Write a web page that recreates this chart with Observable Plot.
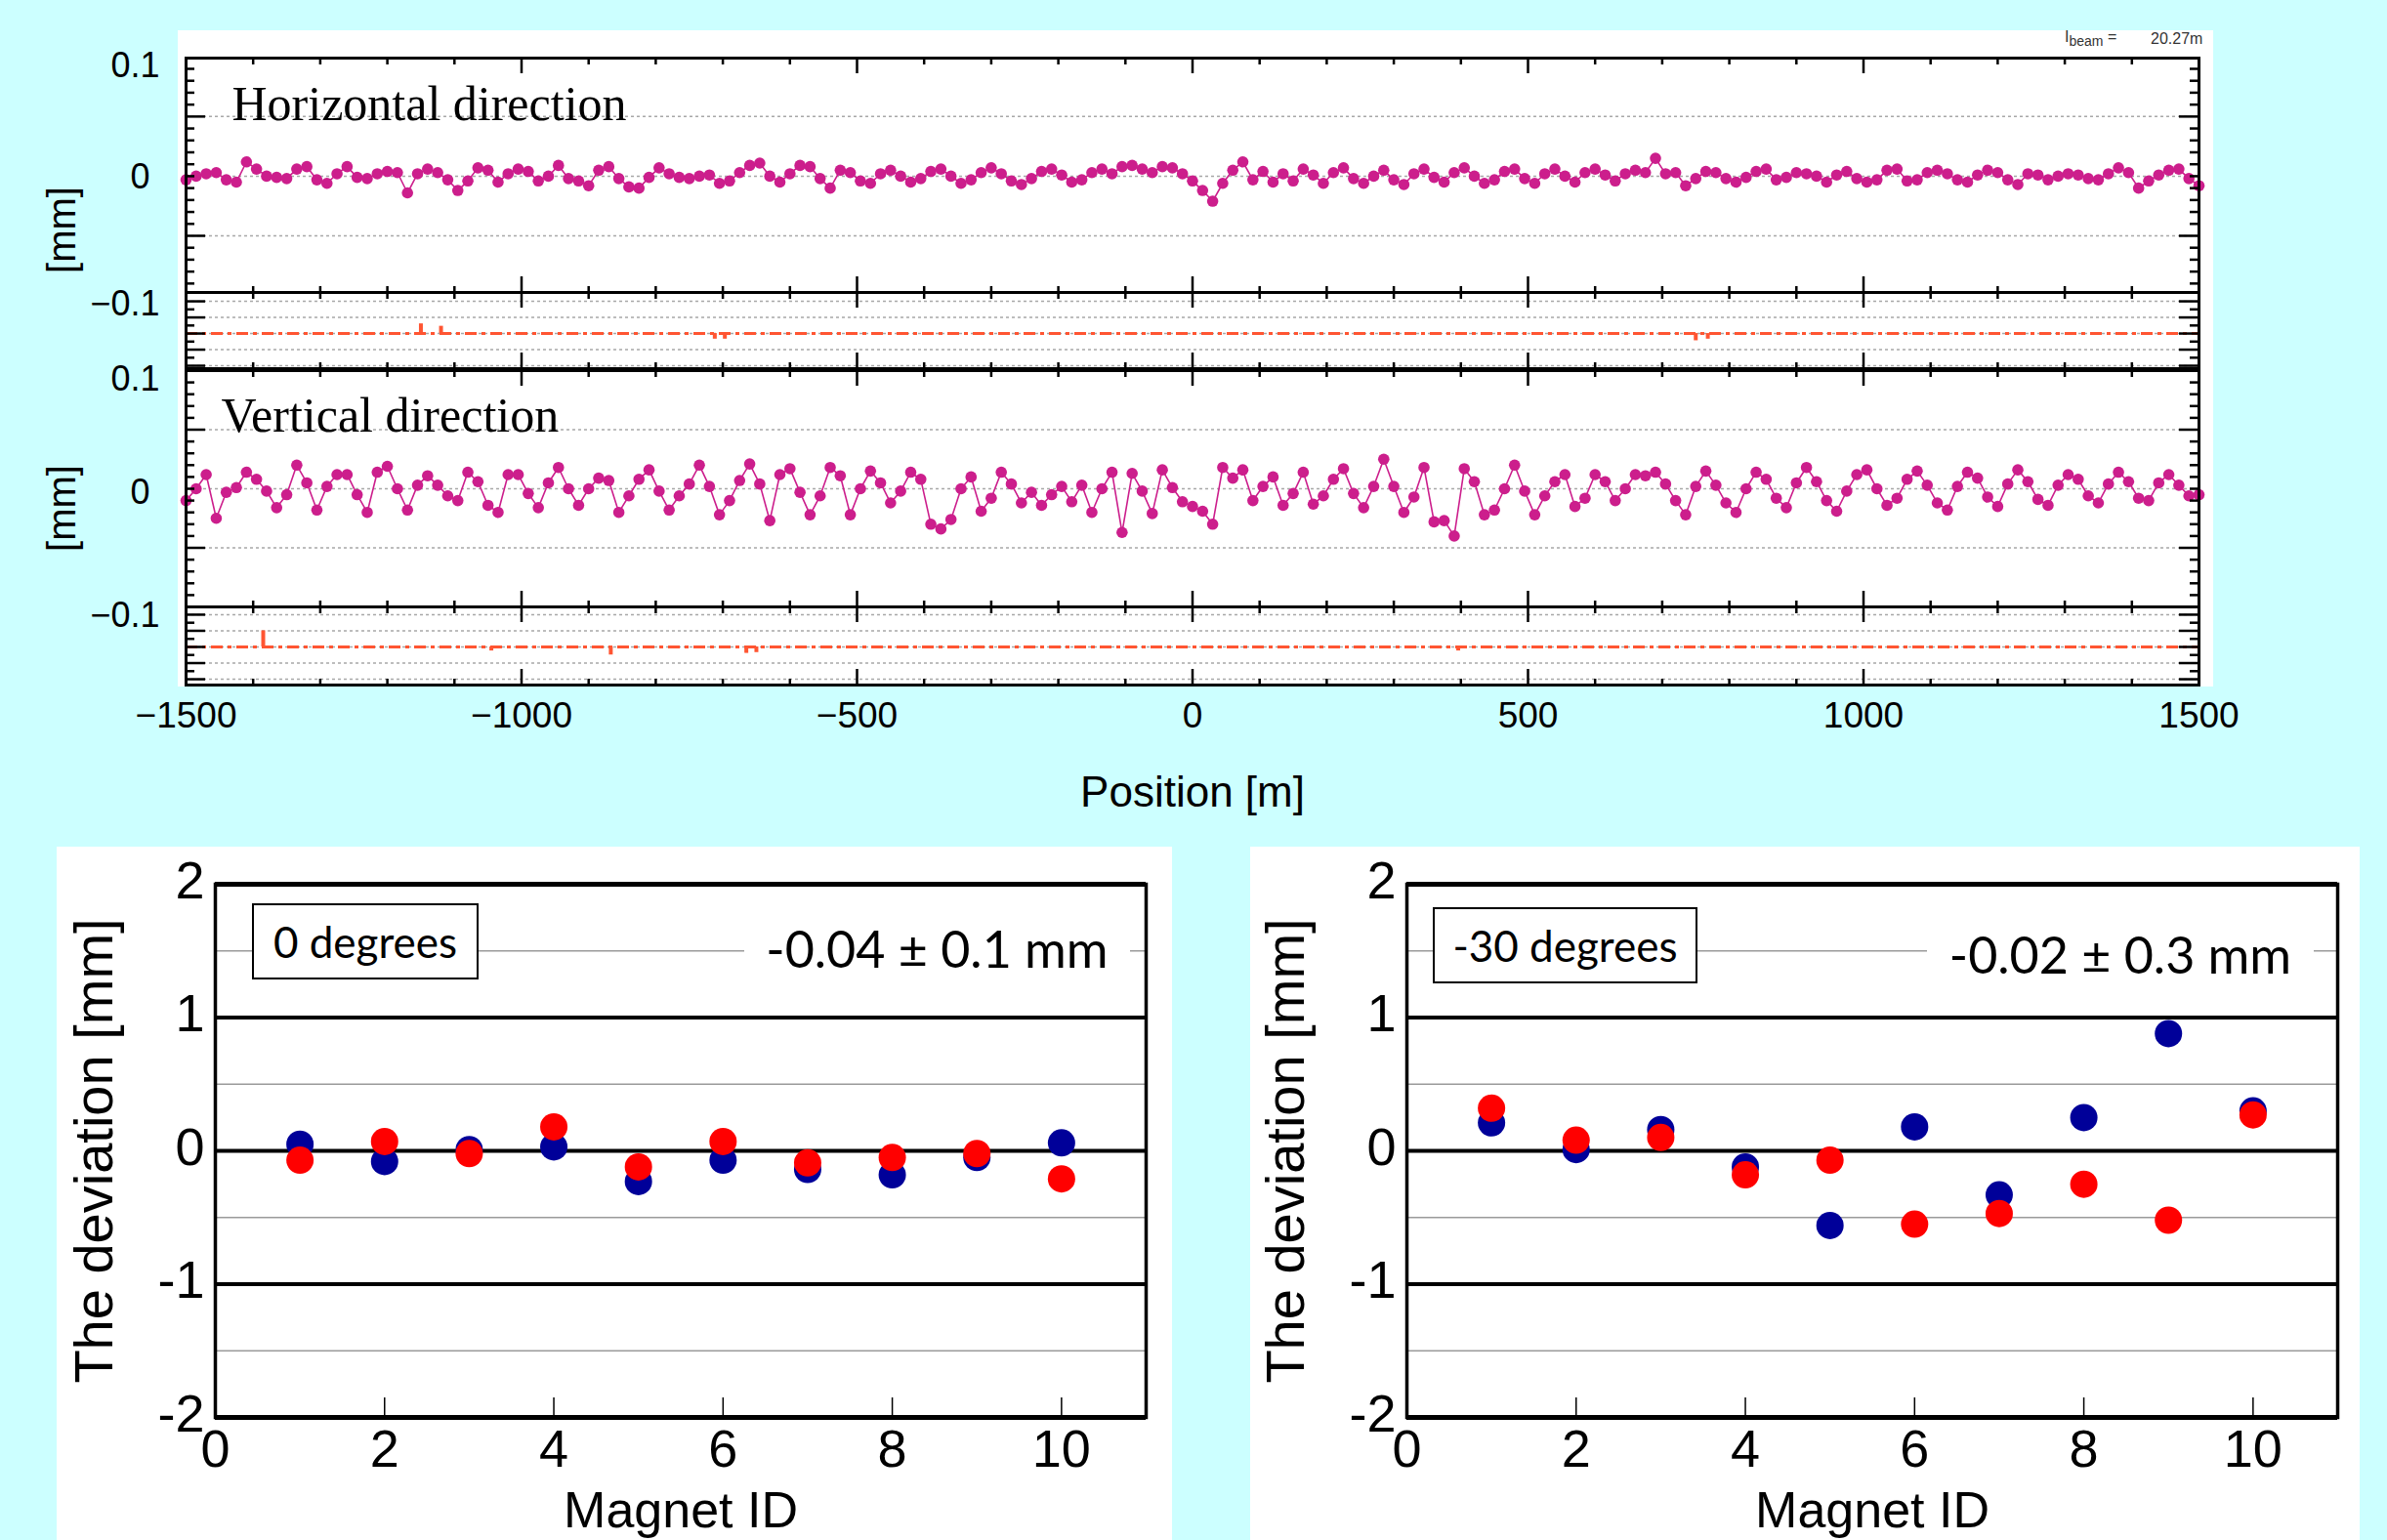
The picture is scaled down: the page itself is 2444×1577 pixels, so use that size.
<!DOCTYPE html>
<html><head><meta charset="utf-8">
<script src="https://cdn.jsdelivr.net/npm/d3@7"></script>
<script src="https://cdn.jsdelivr.net/npm/@observablehq/plot@0.6"></script>
<style>
html,body{margin:0;padding:0;background:#ccffff;overflow:hidden;}
#page{position:relative;width:2444px;height:1577px;background:#ccffff;overflow:hidden;font-family:"Liberation Sans",Arial,sans-serif;}
.layer{position:absolute;left:0;top:0;width:2444px;height:1577px;}
.bg{position:absolute;background:#fff;}
.box{position:absolute;background:#fff;border:2px solid #000;box-sizing:border-box;font-family:Lato,sans-serif;font-size:44px;display:flex;align-items:center;justify-content:center;color:#000;white-space:nowrap;}
.stat{position:absolute;background:#fff;font-family:Lato,sans-serif;font-size:52px;display:flex;align-items:center;justify-content:center;color:#000;white-space:nowrap;}
</style></head><body><div id="page"></div>
<script>
// ---------- data ----------
const positionStart = -1500, positionStep = 15; // survey sampling along the ring (m)
// horizontal deviation (µm), one row per 300 m
const horizontalUm = [
  -3, 0, 2, 3, -3, -5, 12, 6, 0, -1, -2, 6, 8, -3, -6, 2, 8, -1, -2, 2,
  4, 3, -14, 2, 6, 3, -3, -12, -4, 7, 5, -5, 2, 6, 4, -4, 0, 9, -2, -4,
  -8, 5, 8, -2, -9, -10, -1, 7, 2, -1, -2, 0, 1, -6, -4, 3, 9, 11, 0, -5,
  2, 9, 8, -2, -10, 5, 3, -4, -6, 2, 5, 0, -5, -2, 4, 6, 0, -6, -3, 3,
  7, 2, -4, -7, -2, 4, 6, 1, -5, -3, 3, 6, 2, 8, 9, 6, 3, 8, 7, 2,
  -4, -12, -21, -6, 5, 12, -3, 4, -5, 2, -4, 6, 1, -6, 3, 7, -2, -6, 0, 5,
  -3, -7, 2, 6, -1, -5, 3, 7, 0, -6, -3, 4, 6, -2, -6, 2, 6, 0, -5, 3,
  6, 1, -4, 2, 5, 3, 15, 2, 3, -8, -2, 4, 3, -2, -5, -1, 4, 6, -3, -1,
  3, 2, 0, -5, 1, 4, -2, -5, -3, 5, 6, -4, -3, 3, 5, 2, -3, -5, 1, 5,
  3, -3, -7, 2, 1, -3, 0, 2, 1, -2, -3, 2, 7, 3, -10, -4, 1, 5, 6, -2,
  -8
];
// vertical deviation (µm), one row per 300 m
const verticalUm = [
  -10, 0, 12, -25, -3, 1, 14, 8, -2, -16, -5, 20, 5, -18, 2, 12, 12, -5, -20, 14,
  19, 0, -18, 3, 11, 3, -6, -10, 14, 6, -14, -20, 12, 12, -4, -16, 5, 18, 0, -14,
  0, 9, 7, -20, -6, 8, 16, -2, -18, -6, 4, 20, 2, -22, -10, 7, 21, 4, -27, 12,
  17, -3, -22, -6, 18, 11, -22, 0, 15, 5, -12, -2, 14, 8, -30, -34, -26, 0, 10, -19,
  -8, 14, 4, -12, -3, -14, -5, 2, -11, 3, -20, 0, 14, -37, 13, -2, -21, 16, 1, -11,
  -15, -19, -30, 18, 9, 16, -10, 2, 10, -14, -4, 14, -13, -6, 8, 17, -4, -16, 2, 25,
  2, -20, -7, 18, -28, -27, -40, 17, 6, -22, -18, 0, 20, -2, -22, -6, 6, 12, -15, -8,
  12, 6, -10, 0, 12, 11, 14, 4, -10, -22, 2, 15, 3, -12, -20, 0, 14, 8, -8, -16,
  5, 18, 6, -10, -19, -2, 12, 16, 0, -14, -8, 8, 15, 3, -12, -18, 2, 14, 9, -7,
  -15, 4, 16, 6, -9, -14, 3, 12, 8, -6, -12, 4, 14, 6, -8, -10, 5, 12, 3, -6,
  -5
];
// residual strips (arbitrary units, grid at -2..2)
const hResidPos = [-1150, -1120, -712, -697, 750, 768];
const hResidVal = [0.6, 0.45, -0.35, -0.35, -0.45, -0.35];
const vResidPos = [-1385, -1045, -867, -665, -650, 396];
const vResidVal = [1.0, -0.25, -0.5, -0.4, -0.35, -0.25];
const residGrid = [-2, -1, 0, 1, 2];
const mainGrid = [-0.05, 0, 0.05];
const edgeTickValues = [0.1, -0.1];
const edgeTickLabels = ["0.1", "\u22120.1"];
const zeroTickLabel = ["0"];
const xTickValues = [-1500, -1000, -500, 0, 500, 1000, 1500];
const xTickLabels = ["\u22121500", "\u22121000", "\u2212500", "0", "500", "1000", "1500"];

// magnet deviation panels
const magnetIds = [1, 2, 3, 4, 5, 6, 7, 8, 9, 10];
const blue0 = [0.05, -0.08, 0.01, 0.03, -0.23, -0.07, -0.14, -0.18, -0.05, 0.06];
const red0 = [-0.07, 0.07, -0.02, 0.18, -0.12, 0.07, -0.09, -0.05, -0.02, -0.21];
const blue30 = [0.21, 0.01, 0.16, -0.12, -0.56, 0.18, -0.33, 0.25, 0.88, 0.30];
const red30 = [0.32, 0.08, 0.10, -0.18, -0.07, -0.55, -0.47, -0.25, -0.52, 0.27];
const devYTickValues = [2, 1, 0, -1, -2];
const devYTickLabels = ["2", "1", "0", "-1", "-2"];
const devXTickValues = [0, 2, 4, 6, 8, 10];
const devXTickLabels = ["0", "2", "4", "6", "8", "10"];
const devMajorGrid = [1, 0, -1];
const devMinorGrid = [1.5, 0.5, -0.5, -1.5];

// ---------- layout ----------
const W = 2444, H = 1577;
const X0 = 190, X1 = 2251;
const mPerPx = 3000 / (X1 - X0);
const magenta = "#cc1e8c", resRed = "#ff5532";
const svgStyle = "background: transparent; overflow: visible; font-family: 'Liberation Sans', Arial, sans-serif;";
const page = document.getElementById("page");

function addDiv(cls, css, html) {
  const d = document.createElement("div");
  d.className = cls; d.style.cssText = css; if (html) d.innerHTML = html;
  page.appendChild(d); return d;
}
function addPlot(p) { const d = addDiv("layer", ""); d.appendChild(p); }

// backgrounds
addDiv("bg", "left:182px;top:31px;width:2084px;height:672px;");
addDiv("bg", "left:58px;top:867px;width:1142px;height:710px;");
addDiv("bg", "left:1280px;top:867px;width:1136px;height:710px;");

function topPanel({top, bottom, yDomain, grid, minorY, majorY, marks}) {
  const [y0, y1] = yDomain;
  const u = (y1 - y0) / (bottom - top);
  const minorX = d3.range(-1400, 1500, 100).filter(v => v % 500 !== 0);
  const majorX = [-1000, -500, 0, 500, 1000];
  const tk = {stroke: "black", strokeWidth: 2.5};
  return Plot.plot({
    width: W, height: H,
    marginLeft: X0, marginRight: W - X1, marginTop: top, marginBottom: H - bottom,
    x: {domain: [-1500, 1500], axis: null},
    y: {domain: yDomain, axis: null},
    style: svgStyle,
    marks: [
      Plot.ruleY(grid, {y: d => d, stroke: "#a8a8a8", strokeWidth: 1.5, strokeDasharray: "3,3"}),
      ...marks,
      Plot.ruleX(minorX, {x: d => d, y1: y1, y2: y1 - 7 * u, ...tk}),
      Plot.ruleX(majorX, {x: d => d, y1: y1, y2: y1 - 16 * u, ...tk}),
      Plot.ruleX(minorX, {x: d => d, y1: y0, y2: y0 + 6 * u, ...tk}),
      Plot.ruleX(majorX, {x: d => d, y1: y0, y2: y0 + 16 * u, ...tk}),
      Plot.ruleY(minorY, {y: d => d, x1: -1500, x2: -1500 + 9 * mPerPx, ...tk}),
      Plot.ruleY(majorY, {y: d => d, x1: -1500, x2: -1500 + 20 * mPerPx, ...tk}),
      Plot.ruleY(minorY, {y: d => d, x1: 1500, x2: 1500 - 9 * mPerPx, ...tk}),
      Plot.ruleY(majorY, {y: d => d, x1: 1500, x2: 1500 - 20 * mPerPx, ...tk}),
      Plot.frame({stroke: "black", strokeWidth: 3})
    ]
  });
}

const hData = horizontalUm.map((v, i) => ({x: positionStart + positionStep * i, y: v / 1000}));
const vData = verticalUm.map((v, i) => ({x: positionStart + positionStep * i, y: v / 1000}));
const mainMinor = d3.range(-9, 10).filter(v => Math.abs(v) !== 5).map(v => v / 100);
const mainMajor = [-0.05, 0.05];
const residMinor = [-1.5, -0.5, 0.5, 1.5];
const residMajor = [-2, -1, 0, 1, 2];

function seriesMarks(data, title, titleDx, titleDy, unitDy, zeroDy) {
  return [
    Plot.line(data, {x: "x", y: "y", stroke: magenta, strokeWidth: 1.6}),
    Plot.dot(data, {x: "x", y: "y", r: 5.8, fill: magenta}),
    Plot.text(edgeTickLabels, {x: -1500, y: edgeTickValues, text: d => d, dx: -27, dy: 9, textAnchor: "end", fontSize: 36}),
    Plot.text(zeroTickLabel, {x: -1500, y: 0, text: d => d, dx: -37, dy: zeroDy, textAnchor: "end", fontSize: 36}),
    Plot.text([title], {frameAnchor: "top-left", dx: titleDx, dy: titleDy, textAnchor: "start", lineAnchor: "bottom", fontFamily: "'Liberation Serif', 'Times New Roman', serif", fontSize: 50}),
    Plot.text(["[mm]"], {frameAnchor: "left", dx: -126, dy: unitDy, rotate: -90, textAnchor: "middle", lineAnchor: "middle", fontSize: 40})
  ];
}
function residMarks(pos, val) {
  return [
    Plot.ruleY([0], {stroke: resRed, strokeWidth: 3, strokeDasharray: "12,5,4,5"}),
    Plot.ruleX(pos, {x: d => d, y1: 0, y2: val, stroke: resRed, strokeWidth: 4})
  ];
}

// Horizontal main
addPlot(topPanel({top: 59, bottom: 299, yDomain: [-0.0975, 0.099], grid: mainGrid, minorY: mainMinor, majorY: mainMajor,
  marks: seriesMarks(hData, "Horizontal direction", 47, 63, 56, 1)}));
// Horizontal residual
addPlot(topPanel({top: 299, bottom: 377, yDomain: [-2.18, 2.55], grid: residGrid, minorY: residMinor, majorY: residMajor,
  marks: residMarks(hResidPos, hResidVal)}));
// Vertical main
addPlot(topPanel({top: 379, bottom: 621, yDomain: [-0.1, 0.1], grid: mainGrid, minorY: mainMinor, majorY: mainMajor,
  marks: seriesMarks(vData, "Vertical direction", 36, 62, 20, 4)}));
// Vertical residual + x axis labels
addPlot(topPanel({top: 621, bottom: 701, yDomain: [-2.36, 2.48], grid: residGrid, minorY: residMinor, majorY: residMajor,
  marks: [
    ...residMarks(vResidPos, vResidVal),
    Plot.text(xTickLabels, {x: xTickValues, y: -2.36, text: d => d, dy: 32, fontSize: 37}),
    Plot.text(["Position [m]"], {frameAnchor: "bottom", dy: 110, lineAnchor: "middle", fontSize: 44})
  ]}));

// beam label
addDiv("", "position:absolute;left:2114px;top:29px;font-size:16px;color:#333;font-family:'Liberation Sans',Arial,sans-serif;white-space:nowrap;",
  "I<sub style='font-size:14px'>beam</sub> =");
addDiv("", "position:absolute;left:2202px;top:31px;font-size:16px;color:#333;font-family:'Liberation Sans',Arial,sans-serif;white-space:nowrap;",
  "20.27m");

function devPanel({left, right, blue, red}) {
  const top = 905, bottom = 1451;
  const u = 4 / (bottom - top);
  return Plot.plot({
    width: W, height: H,
    marginLeft: left, marginRight: W - right, marginTop: top, marginBottom: H - bottom,
    x: {domain: [0, 11], axis: null},
    y: {domain: [-2, 2], axis: null},
    style: svgStyle,
    marks: [
      Plot.ruleY(devMinorGrid, {y: d => d, stroke: "#9a9a9a", strokeWidth: 1.5}),
      Plot.ruleY(devMajorGrid, {y: d => d, stroke: "black", strokeWidth: 4}),
      Plot.ruleX(devXTickValues.slice(1), {x: d => d, y1: -2, y2: -2 + 20 * u, stroke: "black", strokeWidth: 1.5}),
      Plot.dot(magnetIds, {x: d => d, y: blue, r: 14, fill: "#000099"}),
      Plot.dot(magnetIds, {x: d => d, y: red, r: 14, fill: "#ff0000"}),
      Plot.frame({stroke: "black", strokeWidth: 3.5}),
      Plot.ruleY([2, -2], {y: d => d, stroke: "black", strokeWidth: 5}),
      Plot.text(devYTickLabels, {x: 0, y: devYTickValues, text: d => d, dx: -11, dy: -3, textAnchor: "end", fontSize: 54}),
      Plot.text(devXTickLabels, {x: devXTickValues, y: -2, text: d => d, dy: 33, fontSize: 54}),
      Plot.text(["Magnet ID"], {frameAnchor: "bottom", dy: 96, lineAnchor: "middle", fontSize: 52}),
      Plot.text(["The deviation [mm]"], {frameAnchor: "left", dx: -123, rotate: -90, textAnchor: "middle", lineAnchor: "middle", fontSize: 56})
    ]
  });
}
addPlot(devPanel({left: 220, right: 1173, blue: blue0, red: red0}));
addPlot(devPanel({left: 1440, right: 2393, blue: blue30, red: red30}));

// legend boxes and statistics
addDiv("box", "left:258px;top:925px;width:232px;height:78px;", "0 degrees");
addDiv("stat", "left:762px;top:944px;width:395px;height:54px;", "-0.04 \u00b1 0.1 mm");
addDiv("box", "left:1467px;top:929px;width:271px;height:78px;", "-30 degrees");
addDiv("stat", "left:1973px;top:950px;width:396px;height:54px;", "-0.02 \u00b1 0.3 mm");
</script></body></html>
